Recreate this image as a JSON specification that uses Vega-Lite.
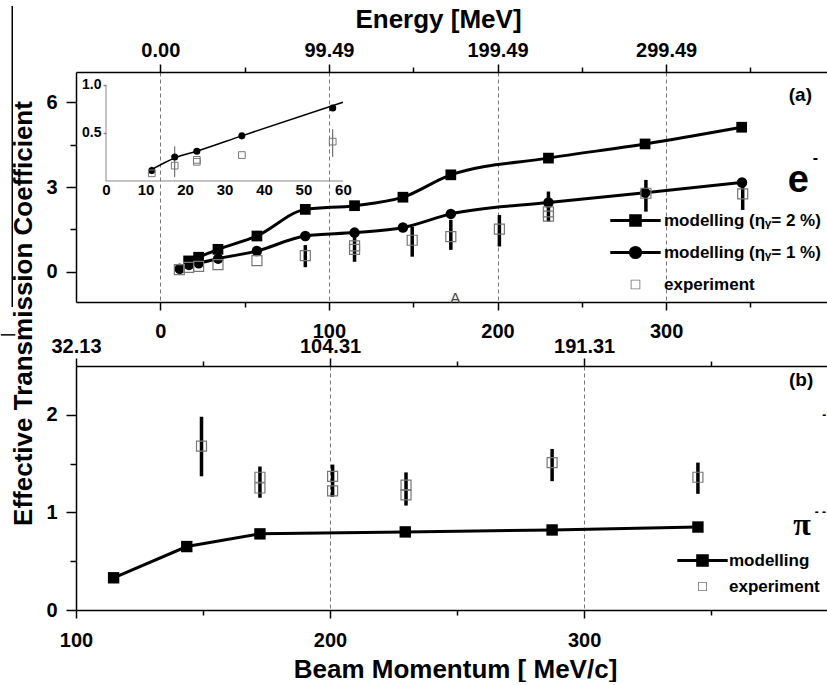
{
  "$schema": "https://vega.github.io/schema/vega-lite/v6.json",
  "autosize": {"type": "pad"},
  "padding": {"left": 0, "top": 5, "right": 0, "bottom": 0},
  "background": "white",
  "spacing": 64,
  "bounds": "flush",
  "config": {
    "view": {"stroke": null},
    "font": "Liberation Sans",
    "axis": {
      "labelFont": "Liberation Sans", "labelFontWeight": "bold", "labelFontSize": 20, "labelColor": "black",
      "titleFont": "Liberation Sans", "titleFontWeight": "bold", "titleFontSize": 26, "titleColor": "black",
      "domainColor": "black", "domainWidth": 1.5, "tickColor": "black", "tickWidth": 1.5,
      "grid": false, "labelFlush": false, "labelOverlap": false
    },
    "text": {"font": "Liberation Sans", "color": "black"}
  },
  "resolve": {
    "scale": {"shape": "independent", "fill": "independent", "stroke": "independent"},
    "legend": {"shape": "independent", "fill": "independent", "stroke": "independent"}
  },
  "vconcat": [
    {
      "width": 752,
      "height": 230,
      "resolve": {"scale": {"x": "independent", "y": "independent"}},
      "layer": [
        {
          "data": {"values": [
            {"p": 16.8, "v": 0.39, "s": "m2"}, {"p": 22.7, "v": 0.52, "s": "m2"}, {"p": 34.2, "v": 0.80, "s": "m2"},
            {"p": 57.3, "v": 1.27, "s": "m2"}, {"p": 86, "v": 2.21, "s": "m2"}, {"p": 115.2, "v": 2.34, "s": "m2"},
            {"p": 143.9, "v": 2.64, "s": "m2"}, {"p": 172.3, "v": 3.43, "s": "m2"}, {"p": 230.2, "v": 4.02, "s": "m2"},
            {"p": 287.5, "v": 4.52, "s": "m2"}, {"p": 344.8, "v": 5.11, "s": "m2"},
            {"p": 11.5, "v": 0.11, "s": "m1"}, {"p": 17, "v": 0.25, "s": "m1"}, {"p": 22.8, "v": 0.31, "s": "m1"},
            {"p": 34.3, "v": 0.47, "s": "m1"}, {"p": 57.3, "v": 0.74, "s": "m1"}, {"p": 86, "v": 1.27, "s": "m1"},
            {"p": 115.2, "v": 1.39, "s": "m1"}, {"p": 143.9, "v": 1.57, "s": "m1"}, {"p": 172.3, "v": 2.05, "s": "m1"},
            {"p": 230.2, "v": 2.45, "s": "m1"}, {"p": 287.5, "v": 2.80, "s": "m1"}, {"p": 345, "v": 3.16, "s": "m1"},
            {"p": 11.3, "v": 0.08, "s": "exp"}, {"p": 16.8, "v": 0.16, "s": "exp"}, {"p": 22.7, "v": 0.20, "s": "exp"},
            {"p": 34.2, "v": 0.26, "s": "exp"}, {"p": 57.3, "v": 0.40, "s": "exp"},
            {"p": 86, "v": 0.58, "s": "exp", "lo": 0.17, "hi": 0.95},
            {"p": 115.2, "v": 0.92, "s": "exp", "lo": 0.36, "hi": 1.31}, {"p": 115.2, "v": 0.80, "s": "exp"},
            {"p": 149.4, "v": 1.12, "s": "exp", "lo": 0.54, "hi": 1.60},
            {"p": 172.3, "v": 1.25, "s": "exp", "lo": 0.78, "hi": 1.84},
            {"p": 201.1, "v": 1.51, "s": "exp", "lo": 0.90, "hi": 2.01},
            {"p": 230.2, "v": 2.12, "s": "exp", "lo": 1.78, "hi": 2.84}, {"p": 230.2, "v": 1.97, "s": "exp"},
            {"p": 288, "v": 2.78, "s": "exp", "lo": 2.13, "hi": 3.25},
            {"p": 345.4, "v": 2.76, "s": "exp", "lo": 2.19, "hi": 3.07}
          ]},
          "encoding": {
            "x": {"field": "p", "type": "quantitative",
              "scale": {"domain": [-50, 396], "nice": false, "zero": false},
              "axis": {"orient": "bottom", "title": null, "values": [0, 50, 100, 150, 200, 250, 300, 350],
                "labelExpr": "datum.value % 100 === 0 ? datum.label : ''",
                "tickSize": {"condition": {"test": "datum.value % 100 === 0", "value": 8}, "value": 5},
                "labelPadding": 11, "grid": true, "gridDash": [4, 3], "gridColor": "#777", "gridWidth": 1,
                "gridOpacity": {"condition": {"test": "datum.value % 100 === 0", "value": 1}, "value": 0}}},
            "y": {"field": "v", "type": "quantitative",
              "scale": {"domain": [-1.06, 7.06], "nice": false, "zero": false},
              "axis": {"orient": "left", "values": [0, 1.5, 3, 4.5, 6],
                "labelExpr": "datum.value % 3 === 0 ? datum.label : ''",
                "tickSize": {"condition": {"test": "datum.value % 3 === 0", "value": 10}, "value": 6},
                "labelPadding": 9,
                "title": "Effective Transmission Coefficient", "titleX": -53, "titleY": 241,
                "titleAngle": 270, "titleBaseline": "middle", "titleAlign": "center"}}
          },
          "layer": [
            {"transform": [{"filter": "datum.s === 'm2'"}],
             "mark": {"type": "line", "interpolate": "monotone", "strokeWidth": 3, "color": "black"}},
            {"transform": [{"filter": "datum.s === 'm1'"}],
             "mark": {"type": "line", "interpolate": "monotone", "strokeWidth": 3, "color": "black"}},
            {"transform": [{"filter": "isValid(datum.lo)"}],
             "mark": {"type": "rule", "strokeWidth": 3.5, "color": "black"},
             "encoding": {"y": {"field": "lo", "type": "quantitative"}, "y2": {"field": "hi"}}},
            {"transform": [{"filter": "datum.s === 'm2'"}],
             "mark": {"type": "point", "shape": "square", "filled": true, "color": "black", "size": 115, "opacity": 1}},
            {"transform": [{"filter": "datum.s === 'm1'"}],
             "mark": {"type": "point", "shape": "circle", "filled": true, "color": "black", "size": 110, "opacity": 1}},
            {"transform": [{"filter": "datum.s === 'exp'"}],
             "mark": {"type": "point", "shape": "square", "filled": false, "color": "#777", "strokeWidth": 1.2, "size": 100, "opacity": 1}},
            {"mark": {"type": "point", "opacity": 0, "filled": true},
             "encoding": {
               "shape": {"field": "s", "type": "nominal",
                 "scale": {"domain": ["m2", "m1", "exp"],
                   "range": ["M-4.2,0H4.2M-0.8,-0.8H0.8V0.8H-0.8Z",
                             "M-4.2,0H4.2M-0.85,0A0.85,0.85,0,1,0,0.85,0A0.85,0.85,0,1,0,-0.85,0Z",
                             "M-0.8,-0.8H0.8V0.8H-0.8ZM-0.66,-0.66V0.66H0.66V-0.66Z"]},
                 "legend": {"orient": "none", "legendX": 551, "legendY": 140, "title": null, "padding": 0,
                   "labelExpr": "datum.value === 'm2' ? 'modelling (ηᵧ= 2 %)' : datum.value === 'm1' ? 'modelling (ηᵧ= 1 %)' : 'experiment'",
                   "labelFont": "Liberation Sans", "labelFontWeight": "bold", "labelFontSize": 17, "labelColor": "black",
                   "symbolSize": 144, "symbolStrokeWidth": 3, "labelOffset": 20, "rowPadding": 9, "symbolOpacity": 1}},
               "fill": {"field": "s", "type": "nominal",
                 "scale": {"domain": ["m2", "m1", "exp"], "range": ["black", "black", "#777"]}},
               "stroke": {"field": "s", "type": "nominal",
                 "scale": {"domain": ["m2", "m1", "exp"], "range": ["black", "black", "transparent"]}}
             }}
          ]
        },
        {
          "data": {"values": [{"p": 0}, {"p": 300}]},
          "mark": {"type": "point", "opacity": 0},
          "encoding": {
            "x": {"field": "p", "type": "quantitative",
              "scale": {"domain": [-50, 396], "nice": false, "zero": false},
              "axis": {"orient": "top", "title": "Energy [MeV]", "values": [0, 50, 100, 150, 200, 250, 300, 350],
                "labelExpr": "datum.value === 0 ? '0.00' : datum.value === 100 ? '99.49' : datum.value === 200 ? '199.49' : datum.value === 300 ? '299.49' : ''",
                "tickSize": {"condition": {"test": "datum.value % 100 === 0", "value": 8}, "value": 5},
                "labelPadding": 4, "titleX": 362, "titleY": -45, "titleBaseline": "alphabetic", "titleAlign": "center"}}
          }
        },
        {
          "data": {"values": [
            {"x": 11.6, "v": 0.12, "s": "fit"}, {"x": 17.4, "v": 0.24, "s": "fit"}, {"x": 23, "v": 0.31, "s": "fit"},
            {"x": 34.4, "v": 0.47, "s": "fit"}, {"x": 60, "v": 0.82, "s": "fit"},
            {"x": 11.6, "v": 0.11, "s": "m1"}, {"x": 17.4, "v": 0.25, "s": "m1"}, {"x": 23, "v": 0.31, "s": "m1"},
            {"x": 34.4, "v": 0.47, "s": "m1"}, {"x": 57.4, "v": 0.76, "s": "m1"},
            {"x": 11.6, "v": 0.08, "s": "exp", "lo": 0.07, "hi": 0.15}, {"x": 17.4, "v": 0.16, "s": "exp", "lo": 0.04, "hi": 0.36},
            {"x": 23, "v": 0.22, "s": "exp"}, {"x": 23, "v": 0.20, "s": "exp"}, {"x": 34.4, "v": 0.27, "s": "exp"},
            {"x": 57.4, "v": 0.41, "s": "exp", "lo": 0.25, "hi": 0.54}
          ]},
          "encoding": {
            "x": {"field": "x", "type": "quantitative",
              "scale": {"domain": [-7.59, 182.8], "nice": false, "zero": false},
              "axis": {"orient": "bottom", "offset": -121, "domain": false, "values": [0, 10, 20, 30, 40, 50, 60],
                "title": null, "labelFontSize": 15, "tickSize": 0, "labelPadding": 1, "grid": false}},
            "y": {"field": "v", "type": "quantitative",
              "scale": {"domain": [-1.26, 1.135], "nice": false, "zero": false},
              "axis": {"orient": "left", "offset": -30, "domain": false, "values": [0.5, 1.0], "format": ".1f",
                "title": null, "labelFontSize": 14, "tickSize": 3, "tickColor": "#888", "labelPadding": 2, "grid": false}}
          },
          "layer": [
            {"transform": [{"filter": "datum.s === 'fit'"}],
             "mark": {"type": "line", "interpolate": "monotone", "strokeWidth": 1.5, "color": "black"}},
            {"transform": [{"filter": "isValid(datum.lo)"}],
             "mark": {"type": "rule", "strokeWidth": 1, "color": "#555"},
             "encoding": {"y": {"field": "lo", "type": "quantitative"}, "y2": {"field": "hi"}}},
            {"transform": [{"filter": "datum.s === 'm1'"}],
             "mark": {"type": "point", "shape": "circle", "filled": true, "color": "black", "size": 50, "opacity": 1}},
            {"transform": [{"filter": "datum.s === 'exp'"}],
             "mark": {"type": "point", "shape": "square", "filled": false, "color": "#777", "strokeWidth": 1, "size": 45, "opacity": 1}}
          ]
        },
        {
          "data": {"values": [{"k": 1}]},
          "layer": [
            {"mark": {"type": "rule", "color": "#888", "strokeWidth": 1},
             "encoding": {
               "x": {"datum": 0, "type": "quantitative", "scale": {"domain": [-7.59, 182.8], "nice": false, "zero": false}, "axis": null},
               "x2": {"datum": 60},
               "y": {"datum": 0, "type": "quantitative", "scale": {"domain": [-1.26, 1.135], "nice": false, "zero": false}, "axis": null}}},
            {"mark": {"type": "rule", "color": "#888", "strokeWidth": 1},
             "encoding": {
               "x": {"datum": 0, "type": "quantitative", "scale": {"domain": [-7.59, 182.8], "nice": false, "zero": false}, "axis": null},
               "y": {"datum": 0, "type": "quantitative", "scale": {"domain": [-1.26, 1.135], "nice": false, "zero": false}, "axis": null},
               "y2": {"datum": 1}}}
          ]
        },
        {
          "data": {"values": [{"k": 1}]},
          "layer": [
            {"mark": {"type": "text", "fontSize": 19, "fontWeight": "bold", "align": "center", "baseline": "middle"},
             "encoding": {
               "x": {"datum": 379.6, "type": "quantitative", "scale": {"domain": [-50, 396], "nice": false, "zero": false}, "axis": null},
               "y": {"datum": 6.25, "type": "quantitative", "scale": {"domain": [-1.06, 7.06], "nice": false, "zero": false}, "axis": null},
               "text": {"value": "(a)"}}},
            {"mark": {"type": "text", "fontSize": 38, "fontWeight": "bold", "align": "center", "baseline": "alphabetic"},
             "encoding": {
               "x": {"datum": 378.4, "type": "quantitative", "scale": {"domain": [-50, 396], "nice": false, "zero": false}, "axis": null},
               "y": {"datum": 2.82, "type": "quantitative", "scale": {"domain": [-1.06, 7.06], "nice": false, "zero": false}, "axis": null},
               "text": {"value": "e"}}},
            {"mark": {"type": "text", "fontSize": 16, "fontWeight": "bold", "align": "center", "baseline": "middle"},
             "encoding": {
               "x": {"datum": 388.5, "type": "quantitative", "scale": {"domain": [-50, 396], "nice": false, "zero": false}, "axis": null},
               "y": {"datum": 4.02, "type": "quantitative", "scale": {"domain": [-1.06, 7.06], "nice": false, "zero": false}, "axis": null},
               "text": {"value": "-"}}},
            {"mark": {"type": "text", "fontSize": 15, "align": "center", "baseline": "middle", "color": "#444"},
             "encoding": {
               "x": {"datum": 175, "type": "quantitative", "scale": {"domain": [-50, 396], "nice": false, "zero": false}, "axis": null},
               "y": {"datum": -0.92, "type": "quantitative", "scale": {"domain": [-1.06, 7.06], "nice": false, "zero": false}, "axis": null},
               "text": {"value": "A"}}},
            {"mark": {"type": "rule", "color": "black", "strokeWidth": 1.5},
             "encoding": {
               "x": {"datum": -87.8, "type": "quantitative", "scale": {"domain": [-50, 396], "nice": false, "zero": false}, "axis": null},
               "y": {"datum": 9.39, "type": "quantitative", "scale": {"domain": [-1.06, 7.06], "nice": false, "zero": false}, "axis": null},
               "y2": {"datum": -1.24}}},
            {"mark": {"type": "rule", "color": "black", "strokeWidth": 1.5},
             "encoding": {
               "x": {"datum": -94.6, "type": "quantitative", "scale": {"domain": [-50, 396], "nice": false, "zero": false}, "axis": null},
               "x2": {"datum": -86},
               "y": {"datum": -2.22, "type": "quantitative", "scale": {"domain": [-1.06, 7.06], "nice": false, "zero": false}, "axis": null}}}
          ]
        }
      ]
    },
    {
      "width": 752,
      "height": 244,
      "resolve": {"scale": {"x": "independent", "y": "independent"}},
      "layer": [
        {
          "data": {"values": [
            {"p": 114.8, "v": 0.33, "s": "m"}, {"p": 143.6, "v": 0.65, "s": "m"}, {"p": 172.4, "v": 0.78, "s": "m"},
            {"p": 229.6, "v": 0.80, "s": "m"}, {"p": 287.4, "v": 0.82, "s": "m"}, {"p": 344.8, "v": 0.85, "s": "m"},
            {"p": 149.4, "v": 1.68, "s": "exp", "lo": 1.37, "hi": 1.98},
            {"p": 172.4, "v": 1.36, "s": "exp", "lo": 1.15, "hi": 1.47}, {"p": 172.4, "v": 1.25, "s": "exp"},
            {"p": 201, "v": 1.37, "s": "exp", "lo": 1.16, "hi": 1.49}, {"p": 201, "v": 1.22, "s": "exp"},
            {"p": 229.9, "v": 1.28, "s": "exp", "lo": 1.07, "hi": 1.41}, {"p": 229.9, "v": 1.18, "s": "exp"},
            {"p": 287.4, "v": 1.51, "s": "exp", "lo": 1.32, "hi": 1.65},
            {"p": 344.8, "v": 1.36, "s": "exp", "lo": 1.19, "hi": 1.51}
          ]},
          "encoding": {
            "x": {"field": "p", "type": "quantitative",
              "scale": {"domain": [100, 396], "nice": false, "zero": false},
              "axis": {"orient": "bottom", "title": "Beam Momentum [ MeV/c]", "values": [100, 150, 200, 250, 300, 350],
                "labelExpr": "datum.value % 100 === 0 ? datum.label : ''",
                "tickSize": {"condition": {"test": "datum.value % 100 === 0", "value": 8}, "value": 5},
                "labelPadding": 12, "titleX": 379, "titleY": 67, "titleBaseline": "alphabetic", "titleAlign": "center",
                "grid": true, "gridDash": [4, 3], "gridColor": "#777", "gridWidth": 1,
                "gridOpacity": {"condition": {"test": "datum.value === 200 || datum.value === 300", "value": 1}, "value": 0}}},
            "y": {"field": "v", "type": "quantitative",
              "scale": {"domain": [0, 2.5], "nice": false, "zero": false},
              "axis": {"orient": "left", "title": null, "values": [0, 0.5, 1, 1.5, 2],
                "labelExpr": "datum.value % 1 === 0 ? format(datum.value, 'd') : ''",
                "tickSize": {"condition": {"test": "datum.value % 1 === 0", "value": 10}, "value": 6},
                "labelPadding": 9}}
          },
          "layer": [
            {"transform": [{"filter": "datum.s === 'm'"}],
             "mark": {"type": "line", "strokeWidth": 3, "color": "black"}},
            {"transform": [{"filter": "isValid(datum.lo)"}],
             "mark": {"type": "rule", "strokeWidth": 3.5, "color": "black"},
             "encoding": {"y": {"field": "lo", "type": "quantitative"}, "y2": {"field": "hi"}}},
            {"transform": [{"filter": "datum.s === 'm'"}],
             "mark": {"type": "point", "shape": "square", "filled": true, "color": "black", "size": 130, "opacity": 1}},
            {"transform": [{"filter": "datum.s === 'exp'"}],
             "mark": {"type": "point", "shape": "square", "filled": false, "color": "#777", "strokeWidth": 1.2, "size": 100, "opacity": 1}},
            {"mark": {"type": "point", "opacity": 0, "filled": true},
             "encoding": {
               "shape": {"field": "s", "type": "nominal",
                 "scale": {"domain": ["m", "exp"],
                   "range": ["M-4.2,0H4.2M-0.8,-0.8H0.8V0.8H-0.8Z", "M-0.75,-0.75H0.75V0.75H-0.75ZM-0.61,-0.61V0.61H0.61V-0.61Z"]},
                 "legend": {"orient": "none", "legendX": 618, "legendY": 186, "title": null, "padding": 0,
                   "labelExpr": "datum.value === 'm' ? 'modelling' : 'experiment'",
                   "labelFont": "Liberation Sans", "labelFontWeight": "bold", "labelFontSize": 17, "labelColor": "black",
                   "symbolSize": 144, "symbolStrokeWidth": 3, "labelOffset": 18, "rowPadding": 4, "symbolOpacity": 1}},
               "fill": {"field": "s", "type": "nominal",
                 "scale": {"domain": ["m", "exp"], "range": ["black", "#777"]}},
               "stroke": {"field": "s", "type": "nominal",
                 "scale": {"domain": ["m", "exp"], "range": ["black", "transparent"]}}
             }}
          ]
        },
        {
          "data": {"values": [{"p": 100}, {"p": 300}]},
          "mark": {"type": "point", "opacity": 0},
          "encoding": {
            "x": {"field": "p", "type": "quantitative",
              "scale": {"domain": [100, 396], "nice": false, "zero": false},
              "axis": {"orient": "top", "title": null, "values": [100, 150, 200, 250, 300, 350],
                "labelExpr": "datum.value === 100 ? '32.13' : datum.value === 200 ? '104.31' : datum.value === 300 ? '191.31' : ''",
                "tickSize": {"condition": {"test": "datum.value % 100 === 0", "value": 8}, "value": 5},
                "labelPadding": 2}}
          }
        },
        {
          "data": {"values": [{"k": 1}]},
          "layer": [
            {"mark": {"type": "text", "fontSize": 19, "fontWeight": "bold", "align": "center", "baseline": "middle"},
             "encoding": {
               "x": {"datum": 385.4, "type": "quantitative", "scale": {"domain": [100, 396], "nice": false, "zero": false}, "axis": null},
               "y": {"datum": 2.36, "type": "quantitative", "scale": {"domain": [0, 2.5], "nice": false, "zero": false}, "axis": null},
               "text": {"value": "(b)"}}},
            {"mark": {"type": "text", "fontSize": 32, "font": "Liberation Serif", "fontWeight": "bold", "align": "center", "baseline": "alphabetic"},
             "encoding": {
               "x": {"datum": 385.8, "type": "quantitative", "scale": {"domain": [100, 396], "nice": false, "zero": false}, "axis": null},
               "y": {"datum": 0.77, "type": "quantitative", "scale": {"domain": [0, 2.5], "nice": false, "zero": false}, "axis": null},
               "text": {"value": "π"}}},
            {"mark": {"type": "text", "fontSize": 12, "fontWeight": "bold", "align": "center", "baseline": "middle"},
             "encoding": {
               "x": {"datum": 393, "type": "quantitative", "scale": {"domain": [100, 396], "nice": false, "zero": false}, "axis": null},
               "y": {"datum": 1.0, "type": "quantitative", "scale": {"domain": [0, 2.5], "nice": false, "zero": false}, "axis": null},
               "text": {"value": "- -"}}},
            {"mark": {"type": "text", "fontSize": 12, "fontWeight": "bold", "align": "center", "baseline": "middle"},
             "encoding": {
               "x": {"datum": 394.5, "type": "quantitative", "scale": {"domain": [100, 396], "nice": false, "zero": false}, "axis": null},
               "y": {"datum": 2.0, "type": "quantitative", "scale": {"domain": [0, 2.5], "nice": false, "zero": false}, "axis": null},
               "text": {"value": "-"}}}
          ]
        }
      ]
    }
  ]
}
